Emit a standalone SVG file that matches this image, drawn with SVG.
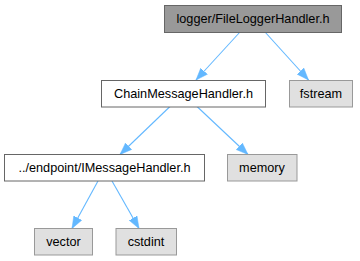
<svg xmlns="http://www.w3.org/2000/svg" width="360" height="261" viewBox="0 0 360 261">
  <style>
    .lbl { font-family: "Liberation Sans", Arial, sans-serif; font-size: 12.7px; fill: #000; text-anchor: middle; }
    .cur { fill: #999999; stroke: #666666; stroke-width: 1; }
    .hdr { fill: #ffffff; stroke: #666666; stroke-width: 1; }
    .sys { fill: #e0e0e0; stroke: #999999; stroke-width: 1; }
    .edge { fill: none; stroke: #63b8ff; stroke-width: 1.1; }
  </style>
  <defs>
    <marker id="arrow" viewBox="0 0 12 12" refX="12" refY="6" markerWidth="12" markerHeight="12" markerUnits="userSpaceOnUse" orient="auto">
      <path d="M0,1.5 L12,6 L0,10.5 Z" fill="#63b8ff" stroke="#63b8ff" stroke-width="0.5"/>
    </marker>
  </defs>
  <rect width="360" height="261" fill="#ffffff"/>

  <g id="edges">
    <path class="edge" marker-end="url(#arrow)" d="M240,32 L196,80"/>
    <path class="edge" marker-end="url(#arrow)" d="M265,32 L308.5,80"/>
    <path class="edge" marker-end="url(#arrow)" d="M170,106.5 L120,154.5"/>
    <path class="edge" marker-end="url(#arrow)" d="M197,106.5 L248,154.5"/>
    <path class="edge" marker-end="url(#arrow)" d="M98,181 L72,228.5"/>
    <path class="edge" marker-end="url(#arrow)" d="M112,181 L139,228.5"/>
  </g>

  <g id="node-fileloggerhandler">
    <rect class="cur" x="164.5" y="5.5" width="177" height="27"/>
    <text class="lbl" x="253" y="23">logger/FileLoggerHandler.h</text>
  </g>
  <g id="node-chainmessagehandler">
    <rect class="hdr" x="101.5" y="80.5" width="164" height="26.5"/>
    <text class="lbl" x="183.5" y="98">ChainMessageHandler.h</text>
  </g>
  <g id="node-fstream">
    <rect class="sys" x="289.5" y="80.5" width="63" height="26.5"/>
    <text class="lbl" x="321" y="98">fstream</text>
  </g>
  <g id="node-imessagehandler">
    <rect class="hdr" x="4.5" y="154.5" width="200" height="26.5"/>
    <text class="lbl" x="104.5" y="172">../endpoint/IMessageHandler.h</text>
  </g>
  <g id="node-memory">
    <rect class="sys" x="227.5" y="154.5" width="69.5" height="26.5"/>
    <text class="lbl" x="262" y="172">memory</text>
  </g>
  <g id="node-vector">
    <rect class="sys" x="34.5" y="228.5" width="58" height="26.5"/>
    <text class="lbl" x="63.5" y="246">vector</text>
  </g>
  <g id="node-cstdint">
    <rect class="sys" x="116" y="228.5" width="60.5" height="26.5"/>
    <text class="lbl" x="146" y="246">cstdint</text>
  </g>
</svg>
